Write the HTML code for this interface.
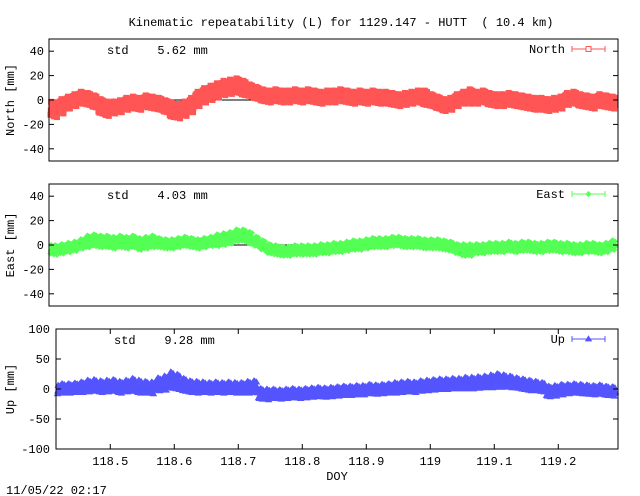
<!DOCTYPE html>
<html><head><meta charset="utf-8"><style>
html,body{margin:0;padding:0;background:#fff}
svg{display:block}
text{font-family:"Liberation Mono","DejaVu Sans Mono",monospace;font-size:12px;fill:#000}
</style></head><body>
<svg id="chart" width="640" height="496" viewBox="0 0 640 496" xmlns="http://www.w3.org/2000/svg">
<text x="341" y="26" text-anchor="middle" style="white-space:pre">Kinematic repeatability (L) for 1129.147 - HUTT  ( 10.4 km)</text>
<text x="6" y="494">11/05/22 02:17</text>
<text x="337" y="480" text-anchor="middle">DOY</text>
<g id="panels"></g>
</svg>
<script>
const doyStart = 118.415;
const doyStep = 0.01;
const northValues = [-6,-8,-5,-2,0,2,1,-1,-5,-7,-6,-5,-3,-2,-3,-1,-2,-3,-5,-8,-9,-7,-4,1,4,6,8,10,11,12,10,8,6,4,3,4,3,3,4,3,4,3,2,3,3,4,3,2,3,2,3,2,2,1,0,1,2,3,2,0,-2,-4,-3,0,2,3,2,3,1,0,0,1,0,-1,-2,-3,-3,-4,-3,-2,1,2,0,-1,-2,0,-1,-2];
const northSpread = [6,6,6,5,5,5,5,5,6,6,5,5,5,5,5,5,5,5,5,6,6,6,6,6,6,6,6,6,6,6,6,5,5,5,5,5,5,5,5,5,5,5,5,5,5,5,5,5,5,5,5,5,5,5,5,5,5,5,6,5,5,5,5,5,5,6,5,5,5,5,5,5,5,5,5,5,5,5,5,5,5,5,5,5,5,5,5,5];
const eastValues = [-3,-4,-3,-2,-1,1,3,4,3,3,2,3,2,3,1,2,3,2,1,1,2,3,2,1,2,3,4,5,6,8,8,6,3,0,-3,-4,-5,-5,-4,-4,-4,-4,-3,-3,-2,-2,-1,0,0,1,2,2,2,3,3,2,2,2,1,1,1,0,-1,-3,-4,-4,-3,-3,-2,-2,-2,-1,-2,-1,-1,-2,-2,-1,-1,-2,-2,-3,-3,-2,-2,-3,-2,0];
const eastSpread = [4,4,4,4,4,4,5,5,5,5,5,5,5,5,5,5,5,4,4,4,4,4,4,4,4,4,5,5,5,5,5,5,4,4,4,4,4,4,4,4,4,4,4,4,4,4,4,4,4,4,4,4,4,4,4,4,4,4,4,4,4,4,4,4,5,5,4,4,4,4,4,4,4,4,4,4,4,4,4,4,4,4,4,4,4,4,4,4];
const upValues = [0,1,1,2,3,5,6,4,5,6,3,5,7,4,3,2,8,10,15,12,7,4,3,3,2,3,2,3,2,2,3,4,-8,-9,-8,-9,-8,-7,-8,-7,-6,-5,-6,-5,-4,-3,-3,-2,-2,0,-1,0,1,2,3,4,3,5,6,7,8,8,9,9,10,10,11,12,13,15,14,12,10,8,6,5,3,-4,-3,-1,0,1,0,-1,-2,-1,-3,-4];
const upSpread = [8,8,8,8,9,10,10,10,10,10,10,10,11,11,10,10,11,12,14,13,11,10,10,9,9,9,9,9,9,9,10,10,9,9,8,8,8,8,8,8,8,8,8,8,8,8,8,8,8,8,8,8,8,9,9,9,9,9,9,9,9,9,9,9,10,10,10,10,11,11,10,10,9,9,9,8,8,9,9,9,8,8,8,8,8,8,8,8];
const northTicks = ["40","20","0","-20","-40"];
const upTicks = ["100","50","0","-50","-100"];
const xTickLabels = ["118.5","118.6","118.7","118.8","118.9","119","119.1","119.2"];
const xTickValues = [118.5,118.6,118.7,118.8,118.9,119.0,119.1,119.2];

const NS = "http://www.w3.org/2000/svg";
const root = document.getElementById('panels');
function mk(tag, attrs, parent){const e=document.createElementNS(NS,tag);for(const k in attrs)e.setAttribute(k,attrs[k]);(parent||root).appendChild(e);return e;}

const XMIN=118.4152, XMAX=119.2933;
const panels=[
 {key:'north',title:'North [mm]',legend:'North',std:'5.62',vals:northValues,spr:northSpread,color:'#ff5555',marker:'square',left:49,right:618,top:39,bottom:161,ymin:-50,ymax:50,ticks:[40,20,0,-20,-40],labels:northTicks,labelX:44,showX:false},
 {key:'east',title:'East [mm]',legend:'East',std:'4.03',vals:eastValues,spr:eastSpread,color:'#55ff55',marker:'diamond',left:49,right:618,top:184,bottom:306,ymin:-50,ymax:50,ticks:[40,20,0,-20,-40],labels:northTicks,labelX:44,showX:false},
 {key:'up',title:'Up [mm]',legend:'Up',std:'9.28',vals:upValues,spr:upSpread,color:'#5555ff',marker:'triangle',left:56,right:618,top:329,bottom:449,ymin:-100,ymax:100,ticks:[100,50,0,-50,-100],labels:upTicks,labelX:50,showX:true}
];
const offs=[[-0.45,0.15],[-0.35,-0.75],[-0.25,0.65],[-0.15,-0.3],[-0.05,0.95],[0.05,-0.6],[0.15,0.4],[0.25,-1.0],[0.35,0.75],[0.45,-0.15],[-0.4,0.45],[0.0,0.0],[0.3,-0.45],[-0.2,-0.9],[0.1,0.85]];

function drawMarker(g,type,x,y,c){
  let e;
  if(type==='square'){e=mk('rect',{x:x-2.5,y:y-2.5,width:5,height:5,fill:c,stroke:c,'stroke-width':1},g);}
  else if(type==='diamond'){e=mk('path',{d:`M${x} ${y-2.5}L${x+2.5} ${y}L${x} ${y+2.5}L${x-2.5} ${y}Z`,fill:c,stroke:c,'stroke-width':0.8},g);}
  else {e=mk('path',{d:`M${x} ${y-3}L${x+3} ${y+2}L${x-3} ${y+2}Z`,fill:c,stroke:c,'stroke-width':0.8},g);}
  
  
}

panels.forEach(p=>{
  const g=mk('g',{});
  
  
  const xs=d=>p.left+(d-XMIN)/(XMAX-XMIN)*(p.right-p.left);
  const ys=v=>p.bottom-(v-p.ymin)/(p.ymax-p.ymin)*(p.bottom-p.top);
  const z=mk('line',{x1:p.left,x2:p.right,y1:ys(0),y2:ys(0),stroke:'#000','stroke-width':1},g);
  
  
  const dg=mk('g',{},g);
  
  
  const stepPx=(doyStep)/(XMAX-XMIN)*(p.right-p.left);
  p.vals.forEach((v,i)=>{
    const d=doyStart+i*doyStep;
    const s=p.spr[i];
    offs.forEach(o=>{
      const x=xs(d)+o[0]*stepPx;
      if(x<p.left+1||x>p.right-1)return;
      const y=ys(v+o[1]*s);
      drawMarker(dg,p.marker,x,y,p.color);
    });
  });
  const fr=mk('rect',{x:p.left,y:p.top,width:p.right-p.left,height:p.bottom-p.top,fill:'none',stroke:'#000','stroke-width':1},g);
  
  
  p.ticks.forEach((t,k)=>{
    const y=ys(t);
    mk('line',{x1:p.left,x2:p.left+5,y1:y,y2:y,stroke:'#000'},g);
    mk('line',{x1:p.right-5,x2:p.right,y1:y,y2:y,stroke:'#000'},g);
    const tl=mk('text',{x:p.labelX,y:y+4,'text-anchor':'end'},g);
    tl.textContent=p.labels[k];
    
    
  });
  xTickValues.forEach((t,k)=>{
    const x=xs(t);
    if(p.showX){
      mk('line',{x1:x,x2:x,y1:p.bottom,y2:p.bottom-5,stroke:'#000'},g);
      mk('line',{x1:x,x2:x,y1:p.top,y2:p.top+5,stroke:'#000'},g);
      const tl=mk('text',{x:x,y:p.bottom+16,'text-anchor':'middle'},g);
      tl.textContent=xTickLabels[k];
      
      
    }
  });
  const cy=(p.top+p.bottom)/2;
  const yt=mk('text',{x:14,y:cy,'text-anchor':'middle',transform:`rotate(-90 14 ${cy})`},g);
  yt.textContent=p.title;
  
  
  const st=mk('text',{x:p.left+58,y:p.top+15},g);
  st.textContent='std    '+p.std+' mm';
  st.style.whiteSpace='pre';
  
  
  const lg=mk('g',{},g);
  
  
  const ly=p.top+10;
  const lt=mk('text',{x:565,y:ly+4,'text-anchor':'end'},lg);
  lt.textContent=p.legend;
  mk('line',{x1:572,x2:605,y1:ly,y2:ly,stroke:p.color,'stroke-width':1},lg);
  mk('line',{x1:572,x2:572,y1:ly-3,y2:ly+3,stroke:p.color},lg);
  mk('line',{x1:605,x2:605,y1:ly-3,y2:ly+3,stroke:p.color},lg);
  const lm = p.marker==='square' ? mk('rect',{x:586,y:ly-2.5,width:5,height:5,fill:'#fff',stroke:p.color},lg) : null;
  if(!lm) drawMarker(lg,p.marker,588.5,ly,p.color);
});
</script>
</body></html>
